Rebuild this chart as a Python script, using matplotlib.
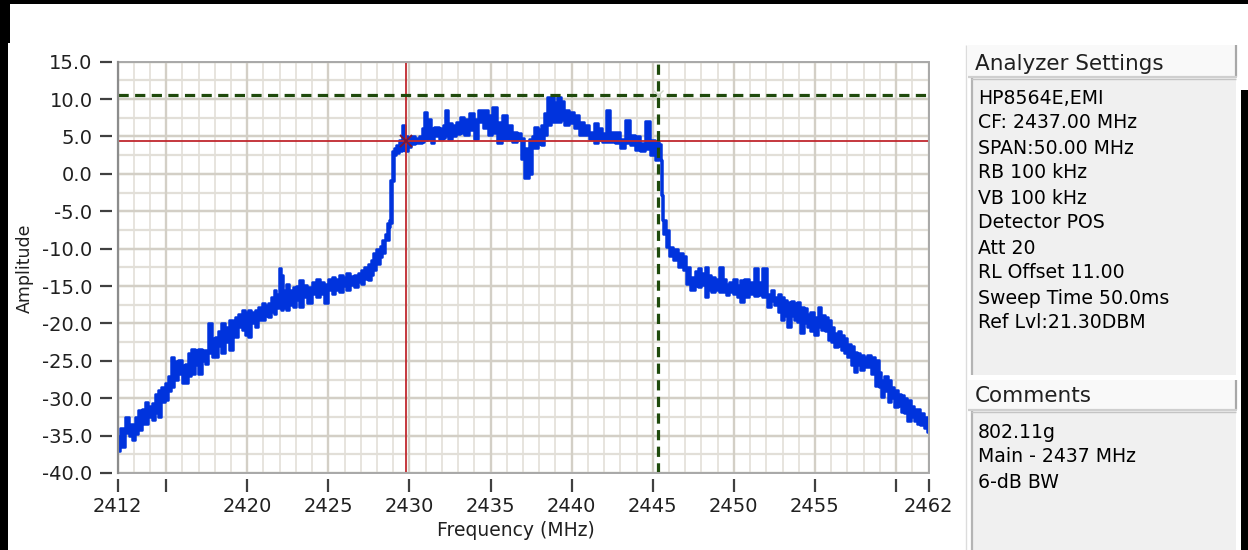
import matplotlib
matplotlib.use("Agg")
import matplotlib.pyplot as plt
from matplotlib.patches import Rectangle

plt.rcParams['font.family'] = ['DejaVu Sans']

# ---------------- data ----------------
freq_mhz = [
    2412.00, 2412.30, 2412.57, 2412.80, 2412.97, 2413.20, 2413.38, 2413.60, 2413.80, 2414.00,
    2414.20, 2414.40, 2414.60, 2414.80, 2415.03, 2415.20, 2415.34, 2415.60, 2415.85, 2416.05,
    2416.26, 2416.45, 2416.67, 2416.90, 2417.08, 2417.30, 2417.49, 2417.70, 2417.90, 2418.10,
    2418.30, 2418.50, 2418.75, 2419.03, 2419.20, 2419.34, 2419.55, 2419.75, 2419.95, 2420.16,
    2420.35, 2420.57, 2420.78, 2420.98, 2421.20, 2421.39, 2421.55, 2421.70, 2421.90, 2422.05,
    2422.15, 2422.30, 2422.50, 2422.70, 2422.90, 2423.10, 2423.30, 2423.55, 2423.85, 2424.10,
    2424.36, 2424.60, 2424.90, 2425.10, 2425.29, 2425.55, 2425.80, 2426.00, 2426.20, 2426.45,
    2426.70, 2426.90, 2427.10, 2427.35, 2427.55, 2427.70, 2427.85, 2428.05, 2428.26, 2428.40,
    2428.57, 2428.66, 2428.78, 2428.88, 2429.00, 2429.09, 2429.29, 2429.45, 2429.60, 2429.80,
    2430.00, 2430.20, 2430.45, 2430.70, 2430.85, 2431.00, 2431.20, 2431.40, 2431.65, 2431.96,
    2432.15, 2432.27, 2432.50, 2432.80, 2433.00, 2433.20, 2433.50, 2433.80, 2434.10, 2434.40,
    2434.70, 2435.00, 2435.20, 2435.55, 2435.86, 2436.20, 2436.50, 2436.80, 2437.00, 2437.15,
    2437.30, 2437.45, 2437.60, 2437.80, 2438.00, 2438.20, 2438.35, 2438.60, 2438.80, 2439.00,
    2439.25, 2439.45, 2439.66, 2439.97, 2440.27, 2440.60, 2440.90, 2441.20, 2441.50, 2441.80,
    2442.00, 2442.20, 2442.50, 2442.80, 2443.15, 2443.45, 2443.76, 2444.07, 2444.40, 2444.70,
    2445.00, 2445.30, 2445.45, 2445.55, 2445.62, 2445.70, 2445.90, 2446.10, 2446.40, 2446.70,
    2447.00, 2447.15, 2447.45, 2447.70, 2447.90, 2448.10, 2448.30, 2448.50, 2448.70, 2448.95,
    2449.20, 2449.40, 2449.60, 2449.85, 2450.10, 2450.30, 2450.50, 2450.80, 2451.10, 2451.35,
    2451.60, 2451.90, 2452.20, 2452.40, 2452.60, 2452.80, 2453.00, 2453.20, 2453.40, 2453.60,
    2453.80, 2454.00, 2454.20, 2454.40, 2454.60, 2454.85, 2455.05, 2455.30, 2455.50, 2455.70,
    2455.90, 2456.10, 2456.30, 2456.50, 2456.70, 2456.90, 2457.10, 2457.30, 2457.50, 2457.70,
    2457.90, 2458.10, 2458.30, 2458.60, 2458.85, 2459.00, 2459.15, 2459.35, 2459.60, 2459.80,
    2460.00, 2460.20, 2460.40, 2460.60, 2460.80, 2461.00, 2461.20, 2461.40, 2461.60, 2461.80,
    2462.00,
]
amp_hi = [
    -35.0, -34.0, -32.5, -33.5, -33.4, -32.5, -31.6, -31.5, -30.5, -31.0,
    -30.7, -29.5, -28.9, -28.5, -28.0, -27.0, -24.5, -25.0, -24.9, -25.5,
    -25.4, -24.0, -23.4, -23.5, -23.4, -23.5, -23.6, -20.0, -22.0, -21.8,
    -21.0, -20.0, -20.5, -19.6, -20.0, -19.1, -18.8, -18.2, -18.5, -18.2,
    -18.5, -18.2, -17.8, -17.3, -17.5, -17.3, -16.5, -15.5, -16.0, -12.6,
    -13.5, -15.5, -14.7, -15.5, -15.1, -15.0, -14.2, -14.8, -15.1, -14.5,
    -14.0, -14.5, -14.7, -14.0, -13.8, -14.0, -13.5, -13.8, -13.3, -13.6,
    -13.5, -13.2, -12.9, -12.5, -12.0, -11.5, -10.6, -10.0, -9.7, -8.9,
    -8.0, -6.6, -6.2, -0.8, 3.0, 3.5, 3.8, 4.5, 6.5, 5.0,
    4.8, 5.0, 4.8, 5.0, 6.1, 8.3, 7.4, 6.1, 6.3, 6.1,
    6.5, 8.5, 6.75, 6.5, 7.0, 7.6, 7.4, 8.1, 7.4, 8.5,
    8.5, 7.9, 9.0, 7.0, 7.9, 6.5, 5.6, 5.4, 4.8, 3.4,
    1.5, 4.7, 5.0, 6.3, 6.0, 6.5, 8.1, 10.3, 10.3, 9.65,
    10.3, 9.8, 8.5, 8.3, 7.9, 7.0, 6.5, 5.6, 6.75, 6.1,
    5.5, 8.5, 5.6, 5.6, 4.7, 7.2, 5.2, 5.0, 4.1, 7.1,
    4.5, 4.3, 4.0, 1.85, -2.8, -6.2, -7.5, -9.75, -10.0, -10.6,
    -11.0, -12.4, -13.8, -13.0, -12.6, -13.2, -12.4, -13.5, -13.8, -14.0,
    -12.4, -14.0, -14.7, -14.5, -14.0, -14.8, -14.2, -14.0, -14.5, -12.6,
    -14.5, -12.6, -16.0, -15.5, -16.4, -16.0, -16.4, -16.8, -17.1, -17.0,
    -17.3, -17.2, -17.8, -18.0, -18.7, -18.5, -19.1, -17.8, -18.9, -19.2,
    -19.6, -20.5, -21.3, -21.0, -21.6, -22.0, -22.7, -23.0, -23.8, -24.0,
    -24.2, -24.5, -24.2, -24.5, -24.9, -26.5, -27.6, -27.0, -27.6, -28.5,
    -28.9, -29.5, -29.6, -30.0, -30.3, -31.0, -31.4, -31.5, -32.0, -32.5,
    -32.5,
]
amp_lo = [
    -37.0, -36.5, -34.7, -35.0, -35.6, -34.8, -34.3, -33.5, -33.4, -32.5,
    -32.9, -32.0, -32.5, -30.5, -30.3, -29.0, -28.5, -27.5, -26.7, -28.0,
    -28.0, -27.0, -26.7, -25.5, -26.7, -25.0, -25.4, -24.0, -24.5, -24.5,
    -23.0, -24.0, -22.5, -23.6, -21.5, -21.8, -20.5, -20.9, -21.5, -21.8,
    -20.0, -20.5, -19.5, -19.6, -19.0, -19.1, -18.5, -18.7, -18.0, -17.5,
    -18.2, -18.0, -18.2, -17.5, -17.8, -16.8, -17.8, -16.5, -17.3, -16.0,
    -16.4, -16.0, -17.3, -15.5, -16.0, -15.5, -15.8, -15.0, -15.5, -14.8,
    -15.1, -14.5, -14.7, -14.0, -14.2, -13.5, -12.9, -12.0, -11.1, -10.6,
    -8.9, -8.9, -7.1, -6.6, -1.0, 2.5, 2.8, 3.0, 3.2, 3.0,
    3.6, 4.0, 4.1, 4.1, 4.3, 4.5, 4.7, 4.1, 5.0, 4.7,
    4.8, 5.0, 4.7, 5.0, 5.3, 5.4, 5.2, 5.9, 4.7, 7.0,
    6.1, 5.2, 5.5, 4.1, 4.7, 4.7, 4.3, 4.5, 2.0, -0.6,
    -0.6, 0.0, 3.5, 3.4, 4.0, 3.8, 5.2, 6.5, 7.0, 7.0,
    7.0, 7.2, 6.5, 6.75, 6.1, 5.2, 5.2, 4.7, 4.1, 4.5,
    4.2, 4.3, 4.3, 4.1, 3.4, 4.1, 3.85, 3.2, 3.0, 3.3,
    2.5, 1.85, 2.0, -2.8, -6.2, -8.0, -9.75, -11.0, -11.5, -12.4,
    -12.9, -14.7, -15.5, -15.0, -15.1, -14.8, -16.4, -15.5, -15.8, -15.5,
    -15.8, -15.8, -16.2, -15.8, -16.0, -16.5, -17.1, -16.4, -16.0, -16.3,
    -16.2, -16.5, -17.8, -17.0, -17.6, -18.5, -19.6, -19.0, -20.5, -19.0,
    -19.6, -19.8, -21.3, -20.0, -20.5, -21.0, -21.6, -20.5, -20.9, -21.0,
    -22.2, -22.5, -23.1, -23.0, -23.6, -24.0, -24.5, -25.5, -26.5, -25.5,
    -26.2, -25.8, -25.8, -26.7, -28.3, -28.5, -29.8, -29.0, -30.5, -30.0,
    -31.2, -31.0, -31.8, -32.0, -33.0, -32.5, -33.0, -33.5, -33.6, -34.0,
    -34.5,
]

x_ticks = [2412, 2415, 2420, 2425, 2430, 2435, 2440, 2445, 2450, 2455, 2460, 2462]
x_tick_labels = ['2412', '', '2420', '2425', '2430', '2435', '2440', '2445', '2450', '2455', '', '2462']
y_ticks = [15, 10, 5, 0, -5, -10, -15, -20, -25, -30, -35, -40]
y_tick_labels = ['15.0', '10.0', '5.0', '0.0', '-5.0', '-10.0', '-15.0', '-20.0',
                 '-25.0', '-30.0', '-35.0', '-40.0']

cursor_red = (2429.78, 4.42)
cursor_green = (2445.35, 10.5)

x_label = 'Frequency (MHz)'
y_label = 'Amplitude'
settings_title = 'Analyzer Settings'
settings_lines = ['HP8564E,EMI', 'CF: 2437.00 MHz', 'SPAN:50.00 MHz', 'RB 100 kHz',
                  'VB 100 kHz', 'Detector POS', 'Att 20', 'RL Offset 11.00',
                  'Sweep Time 50.0ms', 'Ref Lvl:21.30DBM']
comments_title = 'Comments'
comments_lines = ['802.11g', 'Main - 2437 MHz', '6-dB BW']

# ---------------- figure ----------------
W, H = 1248, 550
fig = plt.figure(figsize=(W / 100, H / 100), dpi=100)
fig.patch.set_facecolor('white')

# overlay (pixel coordinates) for the frame and side panel
ov = fig.add_axes([0, 0, 1, 1], zorder=0)
ov.set_xlim(0, W)
ov.set_ylim(H, 0)
ov.axis('off')

def rect(x, y, w, h, fc, ec='none', lw=0):
    ov.add_patch(Rectangle((x, y), w, h, facecolor=fc, edgecolor=ec, linewidth=lw))

def vline(x, y0, y1, c, lw):
    ov.plot([x, x], [y0, y1], color=c, lw=lw, solid_capstyle='butt')

def hline(y, x0, x1, c, lw):
    ov.plot([x0, x1], [y, y], color=c, lw=lw, solid_capstyle='butt')

# black window borders
rect(0, 0, W, 4, 'black')
rect(0, 0, 8, H, 'black')
rect(0, 0, 10, 43, 'black')
rect(1241, 90, 7, H - 90, 'black')

# side panel
vline(966, 45, H, '#dcdcdc', 1.0)
rect(968, 45, 269, 32, '#f9f9f9')
vline(1236, 45, 77, '#a8a8a8', 1.6)
hline(76.5, 968, 1237, '#cfcfcf', 1.6)
rect(971, 78, 265, 297, '#f0f0f0')
vline(972, 78, 375, '#b4b4b4', 1.6)
hline(79, 971, 1236, '#c4c4c4', 1.0)

rect(968, 380, 269, 30, '#f9f9f9')
vline(1236, 380, 410, '#a8a8a8', 1.6)
hline(409.5, 968, 1237, '#cfcfcf', 1.6)
rect(971, 411, 265, H - 411, '#f0f0f0')
vline(972, 411, H, '#b4b4b4', 1.6)
hline(412, 971, 1236, '#c4c4c4', 1.0)

ov.text(975, 64, settings_title, fontsize=15.5, color='#202020', va='center', ha='left')
for i, line in enumerate(settings_lines):
    ov.text(978, 98 + 25 * i, line, fontsize=13.6, color='black', va='center', ha='left')
ov.text(975, 396, comments_title, fontsize=15.5, color='#202020', va='center', ha='left')
for i, line in enumerate(comments_lines):
    ov.text(978, 432 + 25 * i, line, fontsize=13.6, color='black', va='center', ha='left')

ov.text(25, 268, y_label, rotation=90, fontsize=12.5, ha='center', va='center', color='#202020')
ov.text(516, 530, x_label, fontsize=13.5, ha='center', va='center', color='#202020')

# ---------------- main plot ----------------
left, right, top, bottom = 117.5, 928.5, 61.7, 473.0
ax = fig.add_axes([left / W, 1 - bottom / H, (right - left) / W, (bottom - top) / H], zorder=1)
ax.set_xlim(2412, 2462)
ax.set_ylim(-40, 15)
ax.set_facecolor('white')

# grid
for f in range(2412, 2463):
    ax.axvline(f, color='#e7e4de', lw=1.4, zorder=1)
for t in x_ticks:
    ax.axvline(t, color='#d3cfc6', lw=1.7, zorder=1.1)
for k in range(0, 23):
    ax.axhline(-40 + 2.5 * k, color='#e2dfd8', lw=1.6, zorder=1)
for t in y_ticks:
    ax.axhline(t, color='#d3cfc6', lw=1.7, zorder=1.1)

# trace: solid band between the read upper/lower extents at each frequency
blue = '#0033dd'
ax.fill_between(freq_mhz, amp_lo, amp_hi, step='mid', color=blue, lw=0, zorder=3)
ax.step(freq_mhz, amp_hi, where='mid', color=blue, lw=1.8, zorder=3)
ax.step(freq_mhz, amp_lo, where='mid', color=blue, lw=1.8, zorder=3)

# cursors
ax.axvline(cursor_red[0], color='#c0282e', lw=1.3, zorder=4)
ax.axhline(cursor_red[1], color='#c0282e', lw=1.3, zorder=4)
ax.plot(*cursor_red, marker='x', ms=9, mew=1.4, color='#7a1838', zorder=5)
ax.axvline(cursor_green[0], color='#1f4a0c', lw=2.3, ls=(0, (3.2, 2.0)), zorder=4)
ax.axhline(cursor_green[1], color='#1f4a0c', lw=2.3, ls=(0, (3.2, 2.0)), zorder=4)
ax.plot(*cursor_green, marker='x', ms=7, mew=1.0, color='#d0d8c8', zorder=5)

# ticks and frame
ax.set_xticks(x_ticks)
ax.set_xticklabels(x_tick_labels)
ax.set_yticks(y_ticks)
ax.set_yticklabels(y_tick_labels)
for s in ['left', 'bottom']:
    ax.spines[s].set_position(('outward', 4))
    ax.spines[s].set_color('none')
for s in ['top', 'right']:
    ax.spines[s].set_visible(False)
ax.tick_params(axis='both', direction='out', length=9, width=1.6, color='#404040',
               labelsize=14, labelcolor='#202020')
ax.tick_params(axis='x', pad=4)
ax.tick_params(axis='y', pad=5)
ax.add_patch(Rectangle((0, 0), 1, 1, transform=ax.transAxes, fill=False,
                       edgecolor='#a8a8a8', lw=1.4, zorder=6, clip_on=False))
ax.plot([0, 0], [0, 1], transform=ax.transAxes, color='#8c8c8c', lw=1.6, zorder=6, clip_on=False)

fig.savefig('out.png', dpi=100, facecolor='white')
